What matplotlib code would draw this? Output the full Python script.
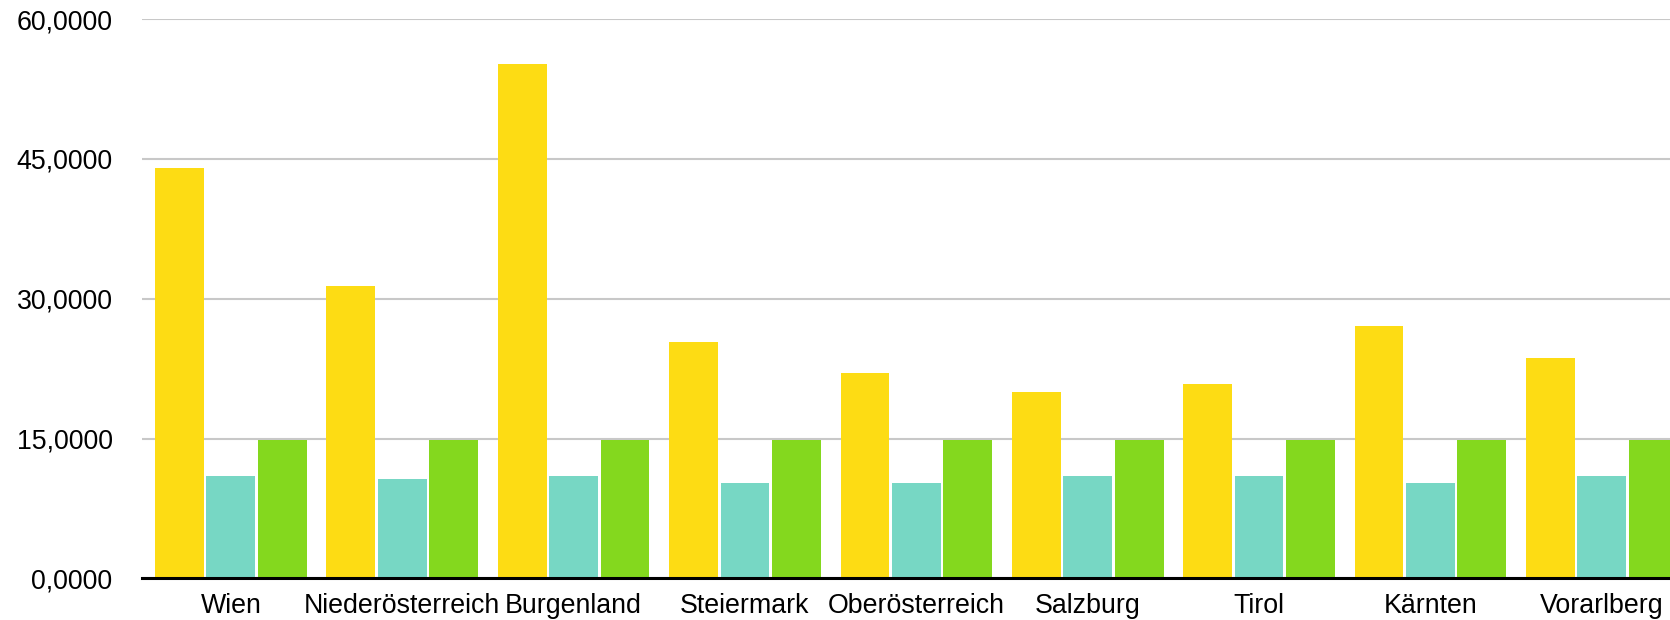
import numpy as np
import matplotlib
matplotlib.use("Agg")
import matplotlib.pyplot as plt

plt.rcParams['font.family'] = ['Liberation Sans', 'DejaVu Sans']

# Bundesländer
laender = ["Wien", "Niederösterreich", "Burgenland", "Steiermark", "Oberösterreich",
           "Salzburg", "Tirol", "Kärnten", "Vorarlberg"]
gelb = [44.0, 31.4, 55.2, 25.4, 22.0, 20.0, 20.9, 27.1, 23.6]
tuerkis = [11.0, 10.7, 11.0, 10.2, 10.2, 11.0, 11.0, 10.2, 11.0]
gruen = [14.85, 14.85, 14.85, 14.85, 14.85, 14.85, 14.85, 14.85, 14.85]
yticks = [0, 15, 30, 45, 60]
ytick_labels = ["0,0000", "15,0000", "30,0000", "45,0000", "60,0000"]

fig = plt.figure(figsize=(16.7, 6.2), dpi=100)
ax = fig.add_axes([0.0849, 0.0671, 0.9151, 0.902])

x = np.arange(len(laender))
w = 0.285
ax.bar(x - 0.3, gelb, w, color="#FDDC14", zorder=2)
ax.bar(x, tuerkis, w, color="#77D7C4", zorder=2)
ax.bar(x + 0.3, gruen, w, color="#84D81E", zorder=2)

ax.set_xlim(-0.52, 8.398)
ax.set_ylim(0, 60)
ax.set_yticks(yticks)
ax.set_yticklabels(ytick_labels)
ax.set_xticks(x)
ax.set_xticklabels(laender)
ax.tick_params(axis="y", length=0, pad=21, labelsize=19.3)
ax.tick_params(axis="x", length=0, pad=10.5, labelsize=19.3)

ax.grid(axis="y", color="#c8c8c8", linewidth=1.5, zorder=0)
for s in ["top", "right", "left"]:
    ax.spines[s].set_visible(False)
ax.spines["bottom"].set_color("black")
ax.spines["bottom"].set_linewidth(2.2)
ax.spines["bottom"].set_zorder(3)

fig.savefig("out.png", dpi=100)
